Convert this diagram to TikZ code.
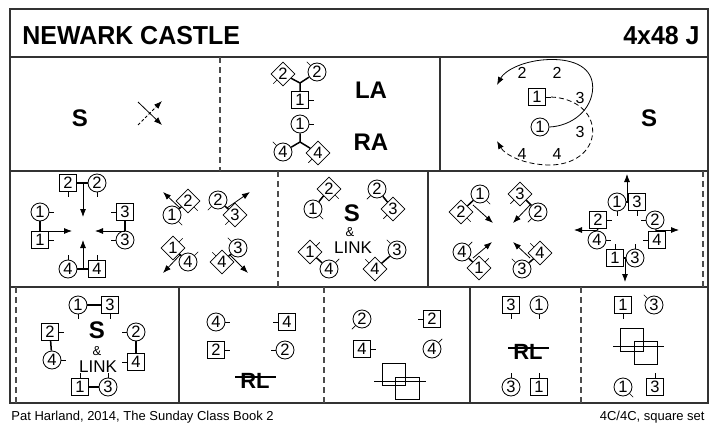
\documentclass[tikz,border=0pt]{standalone}
\usepackage{fontspec}
\setmainfont{Liberation Sans}
\newfontfamily\titlefont[FakeStretch=0.96]{Liberation Sans}
\usetikzlibrary{shapes.geometric,arrows.meta,calc}
\newcommand{\nose}[2]{\draw[nose] (#1.#2) -- ($(#1.#2)!5pt!180:(#1.center)$);}

\begin{document}
\begin{tikzpicture}[x=1pt,y=-1pt,line width=0.8pt,
  man/.style={draw,rectangle,minimum size=17pt,inner sep=0pt,font=\fontsize{16.5}{16.5}\selectfont},
  woman/.style={draw,circle,minimum size=18pt,inner sep=0pt,font=\fontsize{16.5}{16.5}\selectfont},
  mantilt/.style={draw,diamond,aspect=1,minimum size=24pt,inner sep=0pt,font=\fontsize{16.5}{16.5}\selectfont},
  nose/.style={line width=0.7pt},
  hold/.style={line width=1.5pt},
  arr/.style={->,>={Latex[length=8pt,width=6pt]}},
  grid/.style={line width=1.2pt,black!80},
  gap/.style={line width=1.2pt,black!70,dash pattern=on 6pt off 4pt},
  call/.style={font=\fontsize{24}{24}\selectfont\bfseries,inner sep=0pt},
  word/.style={font=\fontsize{17}{17}\selectfont,inner sep=0pt},
  amp/.style={font=\fontsize{13}{13}\selectfont,inner sep=0pt},
  num/.style={font=\fontsize{16}{16}\selectfont,inner sep=0pt},
  foot/.style={font=\fontsize{13}{13}\selectfont,inner sep=0pt}]
\useasboundingbox (0,0) rectangle (715,423);

\draw[grid] (10,9) rectangle (708,403);
\draw[grid] (10,57) -- (708,57);
\draw[grid] (10,171) -- (708,171);
\draw[grid] (10,287) -- (708,287);
\draw[gap] (220,57) -- (220,171);
\draw[grid] (440,57) -- (440,171);
\draw[gap] (278,171) -- (278,287);
\draw[grid] (428,171) -- (428,287);
\draw[gap] (703,171) -- (703,287);
\draw[gap] (16,287) -- (16,403);
\draw[grid] (179,287) -- (179,403);
\draw[gap] (324,287) -- (324,403);
\draw[grid] (470,287) -- (470,403);
\draw[gap] (581,287) -- (581,403);

\node[anchor=base west,inner sep=0pt,font=\titlefont\fontsize{26}{26}\selectfont\bfseries] (title) at (22,44) {NEWARK CASTLE};
\node[anchor=base east,inner sep=0pt,font=\titlefont\fontsize{26}{26}\selectfont\bfseries] (form) at (700,44) {4x48 J};

\node[call] (sA) at (80,118) {S};
\coordinate (xa) at (138,102);
\coordinate (xb) at (162,125);
\coordinate (xc) at (138,125);
\coordinate (xd) at (162,101);
\draw[arr] (xa) -- (xb);
\draw[arr,dash pattern=on 3pt off 2pt] (xc) -- (xd);

\node[mantilt] (la2m) at (283,74) {2};
\node[woman] (la2w) at (317,72) {2};
\node[man] (la1m) at (300,100) {1};
\coordinate (laj) at (300,83);
\draw[hold] (la1m) -- (laj) -- (la2m);
\draw[hold] (laj) -- (la2w);
\nose{la2m}{225} \nose{la2w}{135} \nose{la1m}{0}
\node[call] (la) at (371,90) {LA};
\node[woman] (ra1w) at (300,124) {1};
\node[woman] (ra4w) at (283,152) {4};
\node[mantilt] (ra4m) at (318,153) {4};
\coordinate (raj) at (300,142);
\draw[hold] (ra1w) -- (raj) -- (ra4w);
\draw[hold] (raj) -- (ra4m);
\nose{ra1w}{0} \nose{ra4w}{135} \nose{ra4m}{225}
\node[call] (ra) at (371,142) {RA};

\node[man] (c1m) at (537,97) {1};
\node[woman] (c1w) at (540,127) {1};
\nose{c1m}{0}
\node[num] (c2a) at (522,73) {2};
\node[num] (c2b) at (557,73) {2};
\node[num] (c3a) at (580,98) {3};
\node[num] (c3b) at (580,132) {3};
\node[num] (c4a) at (522,154) {4};
\node[num] (c4b) at (557,154) {4};
\coordinate (cs) at (497,85);
\coordinate (cdst) at (551,97);
\coordinate (cd) at (497,141);
\draw[arr] (c1w.east) .. controls (572,126) and (592,110) .. (592.7,88) .. controls (593,68) and (575,59) .. (550,59.5) .. controls (525,60) and (505,70) .. (cs);
\draw[arr,dash pattern=on 5pt off 3pt] (cdst) .. controls (575,98) and (593,112) .. (592.7,132) .. controls (592,152) and (573,165) .. (550,165) .. controls (525,165) and (505,155) .. (cd);
\node[call] (sC) at (649,118) {S};

\node[man] (a2m) at (68,183) {2};
\node[woman] (a2w) at (97,183) {2};
\node[woman] (a1w) at (40,212) {1};
\node[man] (a1m) at (40,240) {1};
\node[man] (a3m) at (125,212) {3};
\node[woman] (a3w) at (125,240) {3};
\node[woman] (a4w) at (68,269) {4};
\node[man] (a4m) at (97,269) {4};
\draw[hold] (a2m) -- (a2w);
\draw[hold] (a1w) -- (a1m);
\draw[hold] (a3m) -- (a3w);
\draw[hold] (a4w) -- (a4m);
\nose{a2m}{270} \nose{a2w}{270} \nose{a1w}{0} \nose{a1m}{0}
\nose{a3m}{180} \nose{a3w}{180} \nose{a4w}{90} \nose{a4m}{90}
\coordinate (at0) at (83,183);
\coordinate (at1) at (83,217);
\coordinate (al0) at (40,231);
\coordinate (al1) at (72,231);
\coordinate (ar0) at (125,231);
\coordinate (ar1) at (95,231);
\coordinate (ab0) at (83,269);
\coordinate (ab1) at (83,240);
\draw[arr] (at0) -- (at1);
\draw[arr] (al0) -- (al1);
\draw[arr] (ar0) -- (ar1);
\draw[arr] (ab0) -- (ab1);

\node[mantilt] (b2m) at (188,201) {2};
\node[woman] (b1w) at (172,215) {1};
\node[woman] (b2w) at (218,200) {2};
\node[mantilt] (b3m) at (235,215) {3};
\node[mantilt] (b1m) at (173,248) {1};
\node[woman] (b4w) at (188,262) {4};
\node[woman] (b3w) at (238,248) {3};
\node[mantilt] (b4m) at (222,262) {4};
\draw[hold] (b1w) -- (b2m);
\draw[hold] (b2w) -- (b3m);
\draw[hold] (b1m) -- (b4w);
\draw[hold] (b3w) -- (b4m);
\nose{b2m}{315} \nose{b1w}{315} \nose{b2w}{225} \nose{b3m}{225}
\nose{b1m}{45} \nose{b4w}{45} \nose{b3w}{135} \nose{b4m}{135}
\coordinate (bq0) at (180,208);
\coordinate (bq1) at (163,192);
\coordinate (br0) at (227,208);
\coordinate (br1) at (250,192);
\coordinate (bs0) at (180,255);
\coordinate (bs1) at (163,273);
\coordinate (bt0) at (230,255);
\coordinate (bt1) at (248,273);
\draw[arr] (bq0) -- (bq1);
\draw[arr] (br0) -- (br1);
\draw[arr] (bs0) -- (bs1);
\draw[arr] (bt0) -- (bt1);

\node[mantilt] (e2m) at (329,189) {2};
\node[woman] (e1w) at (313,209) {1};
\node[woman] (e2w) at (377,189) {2};
\node[mantilt] (e3m) at (393,209) {3};
\node[mantilt] (e1m) at (310,252) {1};
\node[woman] (e4w) at (329,269) {4};
\node[woman] (e3w) at (397,250) {3};
\node[mantilt] (e4m) at (375,269) {4};
\draw[hold] (e1w) -- (e2m);
\draw[hold] (e2w) -- (e3m);
\draw[hold] (e1m) -- (e4w);
\draw[hold] (e3w) -- (e4m);
\nose{e2m}{315} \nose{e1w}{315} \nose{e2w}{225} \nose{e3m}{225}
\nose{e1m}{45} \nose{e4w}{45} \nose{e3w}{135} \nose{e4m}{135}
\node[call] (sE) at (352,213) {S};
\node[amp] (ampE) at (350,232) {\&};
\node[word] (linkE) at (353,248) {LINK};

\node[woman] (f1w) at (480,194) {1};
\node[mantilt] (f2m) at (461,212) {2};
\node[mantilt] (f3m) at (520,194) {3};
\node[woman] (f2w) at (538,212) {2};
\node[woman] (f4w) at (462,252) {4};
\node[mantilt] (f1m) at (479,268) {1};
\node[mantilt] (f4m) at (540,253) {4};
\node[woman] (f3w) at (522,269) {3};
\draw[hold] (f1w) -- (f2m);
\draw[hold] (f3m) -- (f2w);
\draw[hold] (f4w) -- (f1m);
\draw[hold] (f4m) -- (f3w);
\nose{f1w}{315} \nose{f2m}{315} \nose{f3m}{225} \nose{f2w}{225}
\nose{f4w}{45} \nose{f1m}{45} \nose{f4m}{135} \nose{f3w}{135}
\coordinate (fq0) at (473,205);
\coordinate (fq1) at (493,223);
\coordinate (fr0) at (530,205);
\coordinate (fr1) at (513,223);
\coordinate (fs0) at (473,258);
\coordinate (fs1) at (492,242);
\coordinate (ft0) at (530,258);
\coordinate (ft1) at (513,242);
\draw[arr] (fq0) -- (fq1);
\draw[arr] (fr0) -- (fr1);
\draw[arr] (fs0) -- (fs1);
\draw[arr] (ft0) -- (ft1);

\node[woman] (g1w) at (617,202) {1};
\node[man] (g3m) at (637,202) {3};
\node[man] (g2m) at (598,220) {2};
\node[woman] (g4w) at (597,240) {4};
\node[woman] (g2w) at (655,220) {2};
\node[man] (g4m) at (657,240) {4};
\node[man] (g1m) at (615,258) {1};
\node[woman] (g3w) at (635,258) {3};
\draw[hold] (g1w) -- (g3m);
\draw[hold] (g2m) -- (g4w);
\draw[hold] (g2w) -- (g4m);
\draw[hold] (g1m) -- (g3w);
\nose{g1w}{270} \nose{g3m}{270} \nose{g2m}{0} \nose{g4w}{0}
\nose{g2w}{180} \nose{g4m}{180} \nose{g1m}{90} \nose{g3w}{90}
\coordinate (gu0) at (627,202);
\coordinate (gu1) at (627,174);
\coordinate (gl0) at (597,230);
\coordinate (gl1) at (574,230);
\coordinate (gr0) at (657,230);
\coordinate (gr1) at (679,230);
\coordinate (gd0) at (625,258);
\coordinate (gd1) at (625,282);
\draw[arr] (gu0) -- (gu1);
\draw[arr] (gl0) -- (gl1);
\draw[arr] (gr0) -- (gr1);
\draw[arr] (gd0) -- (gd1);

\node[woman] (h1w) at (78,305) {1};
\node[man] (h3m) at (110,305) {3};
\node[man] (h2m) at (50,332) {2};
\node[woman] (h4w) at (52,360) {4};
\node[woman] (h2w) at (136,332) {2};
\node[man] (h4m) at (136,362) {4};
\node[man] (h1m) at (80,387) {1};
\node[woman] (h3w) at (108,387) {3};
\draw[hold] (h1w) -- (h3m);
\draw[hold] (h2m) -- (h4w);
\draw[hold] (h2w) -- (h4m);
\draw[hold] (h1m) -- (h3w);
\nose{h1w}{270} \nose{h3m}{270} \nose{h2m}{0} \nose{h4w}{0}
\nose{h2w}{180} \nose{h4m}{180} \nose{h1m}{90} \nose{h3w}{90}
\node[call] (sH) at (97,330) {S};
\node[amp] (ampH) at (97,351) {\&};
\node[word] (linkH) at (98,367) {LINK};

\node[woman] (k4w) at (216,322) {4};
\node[man] (k4m) at (287,322) {4};
\node[man] (k2m) at (216,350) {2};
\node[woman] (k2w) at (285,350) {2};
\nose{k4w}{0} \nose{k4m}{180} \nose{k2m}{0} \nose{k2w}{180}
\node[call,font=\fontsize{22}{22}\selectfont\bfseries] (rlK) at (255,381) {RL};
\coordinate (kx0) at (235,377);
\coordinate (kx1) at (276,377);
\draw[line width=1.2pt] (kx0) -- (kx1);

\node[woman] (m2w) at (362,319) {2};
\node[man] (m2m) at (432,319) {2};
\node[man] (m4m) at (362,349) {4};
\node[woman] (m4w) at (432,349) {4};
\nose{m2w}{225} \nose{m2m}{180} \nose{m4m}{0} \nose{m4w}{45}
\draw (382,363) rectangle (405,385);
\draw (395,377) rectangle (419,399);
\draw (374,381) -- (426,381);

\node[man] (n3m) at (511,305) {3};
\node[woman] (n1w) at (539,305) {1};
\node[woman] (n3w) at (511,387) {3};
\node[man] (n1m) at (539,387) {1};
\nose{n3m}{270} \nose{n1w}{270} \nose{n3w}{90} \nose{n1m}{90}
\node[call,font=\fontsize{22}{22}\selectfont\bfseries] (rlN) at (528,352) {RL};
\coordinate (nx0) at (508,348);
\coordinate (nx1) at (549,348);
\draw[line width=1.2pt] (nx0) -- (nx1);

\node[man] (p1m) at (623,305) {1};
\node[woman] (p3w) at (654,305) {3};
\node[woman] (p1w) at (623,387) {1};
\node[man] (p3m) at (655,387) {3};
\nose{p1m}{270} \nose{p3w}{135} \nose{p1w}{315} \nose{p3m}{90}
\draw (620,328) rectangle (643,351);
\draw (634,341) rectangle (657,364);
\draw (613,346) -- (664,346);

\node[foot,anchor=base west] (credit) at (11,420) {Pat Harland, 2014, The Sunday Class Book 2};
\node[foot,anchor=base east] (setup) at (705,420) {4C/4C, square set};
\end{tikzpicture}
\end{document}
